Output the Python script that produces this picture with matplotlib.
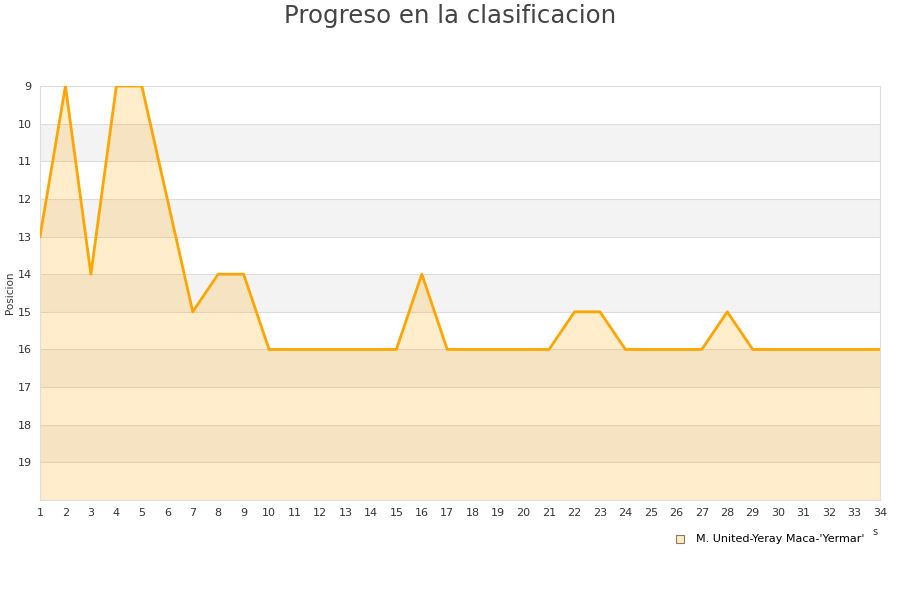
import matplotlib
matplotlib.use("Agg")
import matplotlib.pyplot as plt
from matplotlib.lines import Line2D

jornadas = list(range(1, 35))
posicion = [13, 9, 14, 9, 9, 12, 15, 14, 14, 16,
            16, 16, 16, 16, 16, 14, 16, 16, 16, 16,
            16, 15, 15, 16, 16, 16, 16, 15, 16, 16,
            16, 16, 16, 16]
equipo = "M. United-Yeray Maca-'Yermar'"
y_ticks = list(range(9, 20))

fig = plt.figure(figsize=(9, 6), dpi=100)
ax = fig.add_axes([40 / 900, 100 / 600, 840 / 900, 414 / 600])

# bandas alternas
for y0 in range(10, 20, 2):
    ax.axhspan(y0, y0 + 1, color="#f3f3f3", zorder=0, lw=0)
for y in y_ticks[1:]:
    ax.axhline(y, color="#dddddd", lw=0.8, zorder=1)

ax.fill_between(jornadas, posicion, 20, color="#ffa500", alpha=0.2, lw=0, zorder=2)
ax.plot(jornadas, posicion, color="#ffa500", lw=2, zorder=3)

ax.set_xlim(1, 34)
ax.set_ylim(20, 9)
ax.set_xticks(jornadas)
ax.set_yticks(y_ticks)
ax.tick_params(length=0, labelsize=8, colors="#333333", pad=6)
for s in ax.spines.values():
    s.set_color("#dddddd")
ax.set_ylabel("Posicion", fontsize=7.5, color="#333333", labelpad=2)

fig.text(0.5, 0.973, "Progreso en la clasificacion", ha="center", va="center",
         fontsize=17.6, color="#444444")
fig.text(0.972, 0.109, "s", fontsize=7, color="#333333", ha="center")

handle = Line2D([], [], marker="s", ls="", markersize=6,
                markerfacecolor="#ffecc8", markeredgecolor="#8a7a60", markeredgewidth=0.8)
fig.legend([handle], [equipo], loc="center", bbox_to_anchor=(0.852, 0.101),
           frameon=False, fontsize=8, handletextpad=0.4)

fig.savefig("out.png", dpi=100)
